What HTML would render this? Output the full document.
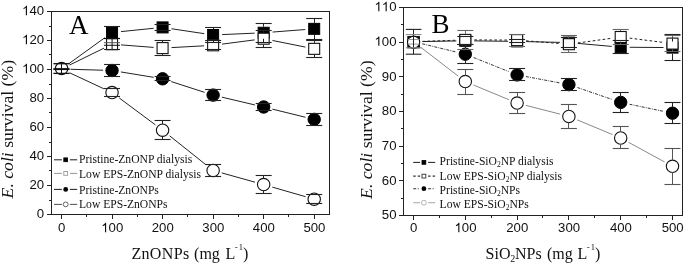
<!DOCTYPE html><html><head><meta charset="utf-8"><style>
html,body{margin:0;padding:0;background:#fff;overflow:hidden}
svg{display:block;will-change:transform}
.tk{font-family:"Liberation Sans",sans-serif;font-size:13.2px;fill:#111}
.lg{font-family:"Liberation Serif",serif;font-size:11.6px;fill:#111}
.ti{font-family:"Liberation Serif",serif;font-size:16px;fill:#111}
.pl{font-family:"Liberation Serif",serif;font-size:27px;fill:#000}
</style></head><body>
<svg width="685" height="265" viewBox="0 0 685 265">
<rect x="51.5" y="11.5" width="278.0" height="203.0" fill="none" stroke="#222" stroke-width="1"/>
<line x1="61.5" y1="214.5" x2="61.5" y2="219.0" stroke="#222" stroke-width="1"/>
<text x="61.7" y="232.3" class="tk" text-anchor="middle">0</text>
<line x1="112.5" y1="214.5" x2="112.5" y2="219.0" stroke="#222" stroke-width="1"/>
<text x="112.24" y="232.3" class="tk" text-anchor="middle">&#x2007;00</text>
<path d="M763 0H583V1147Q518 1085 412.5 1023Q307 961 223 930V1104Q374 1175 487 1276Q600 1377 647 1472H763V0Z" transform="translate(101.23,232.3) scale(0.006445,-0.006445)" fill="#111"/>
<line x1="162.5" y1="214.5" x2="162.5" y2="219.0" stroke="#222" stroke-width="1"/>
<text x="162.78" y="232.3" class="tk" text-anchor="middle">200</text>
<line x1="213.5" y1="214.5" x2="213.5" y2="219.0" stroke="#222" stroke-width="1"/>
<text x="213.32" y="232.3" class="tk" text-anchor="middle">300</text>
<line x1="263.5" y1="214.5" x2="263.5" y2="219.0" stroke="#222" stroke-width="1"/>
<text x="263.86" y="232.3" class="tk" text-anchor="middle">400</text>
<line x1="314.5" y1="214.5" x2="314.5" y2="219.0" stroke="#222" stroke-width="1"/>
<text x="314.4" y="232.3" class="tk" text-anchor="middle">500</text>
<line x1="86.5" y1="214.5" x2="86.5" y2="217.0" stroke="#222" stroke-width="1"/>
<line x1="137.5" y1="214.5" x2="137.5" y2="217.0" stroke="#222" stroke-width="1"/>
<line x1="187.5" y1="214.5" x2="187.5" y2="217.0" stroke="#222" stroke-width="1"/>
<line x1="238.5" y1="214.5" x2="238.5" y2="217.0" stroke="#222" stroke-width="1"/>
<line x1="288.5" y1="214.5" x2="288.5" y2="217.0" stroke="#222" stroke-width="1"/>
<line x1="47.0" y1="214.5" x2="51.5" y2="214.5" stroke="#222" stroke-width="1"/>
<text x="44.1" y="218.2" class="tk" text-anchor="end">0</text>
<line x1="47.0" y1="185.5" x2="51.5" y2="185.5" stroke="#222" stroke-width="1"/>
<text x="44.1" y="189.2" class="tk" text-anchor="end">20</text>
<line x1="47.0" y1="156.5" x2="51.5" y2="156.5" stroke="#222" stroke-width="1"/>
<text x="44.1" y="160.2" class="tk" text-anchor="end">40</text>
<line x1="47.0" y1="127.5" x2="51.5" y2="127.5" stroke="#222" stroke-width="1"/>
<text x="44.1" y="131.2" class="tk" text-anchor="end">60</text>
<line x1="47.0" y1="98.5" x2="51.5" y2="98.5" stroke="#222" stroke-width="1"/>
<text x="44.1" y="102.2" class="tk" text-anchor="end">80</text>
<line x1="47.0" y1="69.5" x2="51.5" y2="69.5" stroke="#222" stroke-width="1"/>
<text x="44.1" y="73.2" class="tk" text-anchor="end">&#x2007;00</text>
<path d="M763 0H583V1147Q518 1085 412.5 1023Q307 961 223 930V1104Q374 1175 487 1276Q600 1377 647 1472H763V0Z" transform="translate(22.08,73.2) scale(0.006445,-0.006445)" fill="#111"/>
<line x1="47.0" y1="40.5" x2="51.5" y2="40.5" stroke="#222" stroke-width="1"/>
<text x="44.1" y="44.2" class="tk" text-anchor="end">&#x2007;20</text>
<path d="M763 0H583V1147Q518 1085 412.5 1023Q307 961 223 930V1104Q374 1175 487 1276Q600 1377 647 1472H763V0Z" transform="translate(22.08,44.2) scale(0.006445,-0.006445)" fill="#111"/>
<line x1="47.0" y1="11.5" x2="51.5" y2="11.5" stroke="#222" stroke-width="1"/>
<text x="44.1" y="15.2" class="tk" text-anchor="end">&#x2007;40</text>
<path d="M763 0H583V1147Q518 1085 412.5 1023Q307 961 223 930V1104Q374 1175 487 1276Q600 1377 647 1472H763V0Z" transform="translate(22.08,15.2) scale(0.006445,-0.006445)" fill="#111"/>
<line x1="49.0" y1="200.5" x2="51.5" y2="200.5" stroke="#222" stroke-width="1"/>
<line x1="49.0" y1="170.5" x2="51.5" y2="170.5" stroke="#222" stroke-width="1"/>
<line x1="49.0" y1="142.5" x2="51.5" y2="142.5" stroke="#222" stroke-width="1"/>
<line x1="49.0" y1="112.5" x2="51.5" y2="112.5" stroke="#222" stroke-width="1"/>
<line x1="49.0" y1="84.5" x2="51.5" y2="84.5" stroke="#222" stroke-width="1"/>
<line x1="49.0" y1="54.5" x2="51.5" y2="54.5" stroke="#222" stroke-width="1"/>
<line x1="49.0" y1="26.5" x2="51.5" y2="26.5" stroke="#222" stroke-width="1"/>
<line x1="68.8" y1="63.73" x2="104.74" y2="37.77" stroke="#222" stroke-width="1"/>
<line x1="120.99" y1="31.6" x2="153.63" y2="28.3" stroke="#222" stroke-width="1"/>
<line x1="171.48" y1="28.74" x2="204.22" y2="33.66" stroke="#222" stroke-width="1"/>
<line x1="222.11" y1="34.6" x2="254.67" y2="33.15" stroke="#222" stroke-width="1"/>
<line x1="272.63" y1="32.06" x2="305.23" y2="29.54" stroke="#222" stroke-width="1"/>
<line x1="69.58" y1="65.04" x2="103.96" y2="48.16" stroke="#222" stroke-width="1"/>
<line x1="121.01" y1="44.89" x2="153.61" y2="47.41" stroke="#222" stroke-width="1"/>
<line x1="171.57" y1="47.6" x2="204.13" y2="45.8" stroke="#222" stroke-width="1"/>
<line x1="222.04" y1="44.13" x2="254.74" y2="39.87" stroke="#222" stroke-width="1"/>
<line x1="272.48" y1="40.47" x2="305.38" y2="47.08" stroke="#222" stroke-width="1"/>
<line x1="70.5" y1="69.27" x2="103.04" y2="70.23" stroke="#222" stroke-width="1"/>
<line x1="120.92" y1="71.96" x2="153.7" y2="77.34" stroke="#222" stroke-width="1"/>
<line x1="171.15" y1="81.56" x2="204.55" y2="92.34" stroke="#222" stroke-width="1"/>
<line x1="221.88" y1="97.16" x2="254.9" y2="104.94" stroke="#222" stroke-width="1"/>
<line x1="272.4" y1="109.14" x2="305.46" y2="117.26" stroke="#222" stroke-width="1"/>
<line x1="69.65" y1="72.81" x2="103.89" y2="88.79" stroke="#222" stroke-width="1"/>
<line x1="119.26" y1="97.97" x2="155.36" y2="124.83" stroke="#222" stroke-width="1"/>
<line x1="169.62" y1="135.81" x2="206.08" y2="164.89" stroke="#222" stroke-width="1"/>
<line x1="221.79" y1="172.92" x2="254.99" y2="182.18" stroke="#222" stroke-width="1"/>
<line x1="272.31" y1="187.1" x2="305.55" y2="196.7" stroke="#222" stroke-width="1"/>
<rect x="106.54" y="27" width="11.0" height="11.0" fill="#000" stroke="#000" stroke-width="1"/>
<rect x="157.08" y="21.9" width="11.0" height="11.0" fill="#000" stroke="#000" stroke-width="1"/>
<rect x="207.62" y="29.5" width="11.0" height="11.0" fill="#000" stroke="#000" stroke-width="1"/>
<rect x="258.16" y="27.25" width="11.0" height="11.0" fill="#000" stroke="#000" stroke-width="1"/>
<rect x="308.7" y="23.35" width="11.0" height="11.0" fill="#000" stroke="#000" stroke-width="1"/>
<rect x="106.54" y="38.7" width="11.0" height="11.0" fill="#fff" stroke="#111" stroke-width="1.1"/>
<rect x="157.08" y="42.6" width="11.0" height="11.0" fill="#fff" stroke="#111" stroke-width="1.1"/>
<rect x="207.62" y="39.8" width="11.0" height="11.0" fill="#fff" stroke="#111" stroke-width="1.1"/>
<rect x="258.16" y="33.2" width="11.0" height="11.0" fill="#fff" stroke="#111" stroke-width="1.1"/>
<rect x="308.7" y="43.35" width="11.0" height="11.0" fill="#fff" stroke="#111" stroke-width="1.1"/>
<circle cx="112.04" cy="70.5" r="6.2" fill="#000" stroke="#000" stroke-width="1"/>
<circle cx="162.58" cy="78.8" r="6.2" fill="#000" stroke="#000" stroke-width="1"/>
<circle cx="213.12" cy="95.1" r="6.2" fill="#000" stroke="#000" stroke-width="1"/>
<circle cx="263.66" cy="107" r="6.2" fill="#000" stroke="#000" stroke-width="1"/>
<circle cx="314.2" cy="119.4" r="6.2" fill="#000" stroke="#000" stroke-width="1"/>
<circle cx="112.04" cy="92.6" r="6.2" fill="#fff" stroke="#111" stroke-width="1.1"/>
<circle cx="162.58" cy="130.2" r="6.2" fill="#fff" stroke="#111" stroke-width="1.1"/>
<circle cx="213.12" cy="170.5" r="6.2" fill="#fff" stroke="#111" stroke-width="1.1"/>
<circle cx="263.66" cy="184.6" r="6.2" fill="#fff" stroke="#111" stroke-width="1.1"/>
<circle cx="314.2" cy="199.2" r="6.2" fill="#fff" stroke="#111" stroke-width="1.1"/>
<line x1="104.04" y1="26.5" x2="120.04" y2="26.5" stroke="#222" stroke-width="1.1"/>
<line x1="104.04" y1="38.5" x2="120.04" y2="38.5" stroke="#222" stroke-width="1.1"/>
<line x1="154.58" y1="24.5" x2="170.58" y2="24.5" stroke="#222" stroke-width="1.1"/>
<line x1="154.58" y1="30.5" x2="170.58" y2="30.5" stroke="#222" stroke-width="1.1"/>
<line x1="213.5" y1="27.5" x2="213.5" y2="29" stroke="#222" stroke-width="1"/>
<line x1="213.5" y1="41" x2="213.5" y2="42.5" stroke="#222" stroke-width="1"/>
<line x1="205.12" y1="27.5" x2="221.12" y2="27.5" stroke="#222" stroke-width="1.1"/>
<line x1="205.12" y1="42.5" x2="221.12" y2="42.5" stroke="#222" stroke-width="1.1"/>
<line x1="263.5" y1="23.5" x2="263.5" y2="26.75" stroke="#222" stroke-width="1"/>
<line x1="263.5" y1="38.75" x2="263.5" y2="42.5" stroke="#222" stroke-width="1"/>
<line x1="255.66" y1="23.5" x2="271.66" y2="23.5" stroke="#222" stroke-width="1.1"/>
<line x1="255.66" y1="42.5" x2="271.66" y2="42.5" stroke="#222" stroke-width="1.1"/>
<line x1="314.5" y1="18.5" x2="314.5" y2="22.85" stroke="#222" stroke-width="1"/>
<line x1="314.5" y1="34.85" x2="314.5" y2="39.5" stroke="#222" stroke-width="1"/>
<line x1="306.2" y1="18.5" x2="322.2" y2="18.5" stroke="#222" stroke-width="1.1"/>
<line x1="306.2" y1="39.5" x2="322.2" y2="39.5" stroke="#222" stroke-width="1.1"/>
<line x1="104.04" y1="38.5" x2="120.04" y2="38.5" stroke="#222" stroke-width="1.1"/>
<line x1="104.04" y1="49.5" x2="120.04" y2="49.5" stroke="#222" stroke-width="1.1"/>
<line x1="162.5" y1="40.5" x2="162.5" y2="42.1" stroke="#222" stroke-width="1"/>
<line x1="162.5" y1="54.1" x2="162.5" y2="55.5" stroke="#222" stroke-width="1"/>
<line x1="154.58" y1="40.5" x2="170.58" y2="40.5" stroke="#222" stroke-width="1.1"/>
<line x1="154.58" y1="55.5" x2="170.58" y2="55.5" stroke="#222" stroke-width="1.1"/>
<line x1="205.12" y1="40.5" x2="221.12" y2="40.5" stroke="#222" stroke-width="1.1"/>
<line x1="205.12" y1="49.5" x2="221.12" y2="49.5" stroke="#222" stroke-width="1.1"/>
<line x1="263.5" y1="30.5" x2="263.5" y2="32.7" stroke="#222" stroke-width="1"/>
<line x1="263.5" y1="44.7" x2="263.5" y2="47.5" stroke="#222" stroke-width="1"/>
<line x1="255.66" y1="30.5" x2="271.66" y2="30.5" stroke="#222" stroke-width="1.1"/>
<line x1="255.66" y1="47.5" x2="271.66" y2="47.5" stroke="#222" stroke-width="1.1"/>
<line x1="314.5" y1="40.5" x2="314.5" y2="42.85" stroke="#222" stroke-width="1"/>
<line x1="314.5" y1="54.85" x2="314.5" y2="57.5" stroke="#222" stroke-width="1"/>
<line x1="306.2" y1="40.5" x2="322.2" y2="40.5" stroke="#222" stroke-width="1.1"/>
<line x1="306.2" y1="57.5" x2="322.2" y2="57.5" stroke="#222" stroke-width="1.1"/>
<line x1="112.5" y1="64.5" x2="112.5" y2="64.5" stroke="#222" stroke-width="1"/>
<line x1="112.5" y1="76.5" x2="112.5" y2="76.5" stroke="#222" stroke-width="1"/>
<line x1="104.04" y1="64.5" x2="120.04" y2="64.5" stroke="#222" stroke-width="1.1"/>
<line x1="104.04" y1="76.5" x2="120.04" y2="76.5" stroke="#222" stroke-width="1.1"/>
<line x1="154.58" y1="76.5" x2="170.58" y2="76.5" stroke="#222" stroke-width="1.1"/>
<line x1="154.58" y1="80.5" x2="170.58" y2="80.5" stroke="#222" stroke-width="1.1"/>
<line x1="205.12" y1="89.5" x2="221.12" y2="89.5" stroke="#222" stroke-width="1.1"/>
<line x1="205.12" y1="100.5" x2="221.12" y2="100.5" stroke="#222" stroke-width="1.1"/>
<line x1="255.66" y1="103.5" x2="271.66" y2="103.5" stroke="#222" stroke-width="1.1"/>
<line x1="255.66" y1="110.5" x2="271.66" y2="110.5" stroke="#222" stroke-width="1.1"/>
<line x1="314.5" y1="113.5" x2="314.5" y2="113.4" stroke="#222" stroke-width="1"/>
<line x1="314.5" y1="125.4" x2="314.5" y2="125.5" stroke="#222" stroke-width="1"/>
<line x1="306.2" y1="113.5" x2="322.2" y2="113.5" stroke="#222" stroke-width="1.1"/>
<line x1="306.2" y1="125.5" x2="322.2" y2="125.5" stroke="#222" stroke-width="1.1"/>
<line x1="104.04" y1="88.5" x2="120.04" y2="88.5" stroke="#222" stroke-width="1.1"/>
<line x1="104.04" y1="96.5" x2="120.04" y2="96.5" stroke="#222" stroke-width="1.1"/>
<line x1="162.5" y1="120.5" x2="162.5" y2="124.2" stroke="#222" stroke-width="1"/>
<line x1="162.5" y1="136.2" x2="162.5" y2="139.5" stroke="#222" stroke-width="1"/>
<line x1="154.58" y1="120.5" x2="170.58" y2="120.5" stroke="#222" stroke-width="1.1"/>
<line x1="154.58" y1="139.5" x2="170.58" y2="139.5" stroke="#222" stroke-width="1.1"/>
<line x1="213.5" y1="164.5" x2="213.5" y2="164.5" stroke="#222" stroke-width="1"/>
<line x1="213.5" y1="176.5" x2="213.5" y2="176.5" stroke="#222" stroke-width="1"/>
<line x1="205.12" y1="164.5" x2="221.12" y2="164.5" stroke="#222" stroke-width="1.1"/>
<line x1="205.12" y1="176.5" x2="221.12" y2="176.5" stroke="#222" stroke-width="1.1"/>
<line x1="263.5" y1="175.5" x2="263.5" y2="178.6" stroke="#222" stroke-width="1"/>
<line x1="263.5" y1="190.6" x2="263.5" y2="193.5" stroke="#222" stroke-width="1"/>
<line x1="255.66" y1="175.5" x2="271.66" y2="175.5" stroke="#222" stroke-width="1.1"/>
<line x1="255.66" y1="193.5" x2="271.66" y2="193.5" stroke="#222" stroke-width="1.1"/>
<line x1="306.2" y1="194.5" x2="322.2" y2="194.5" stroke="#222" stroke-width="1.1"/>
<line x1="306.2" y1="203.5" x2="322.2" y2="203.5" stroke="#222" stroke-width="1.1"/>
<circle cx="61.6" cy="68.5" r="6.2" fill="#fff" stroke="#111" stroke-width="1.2"/>
<line x1="61.5" y1="62.3" x2="61.5" y2="74.7" stroke="#111" stroke-width="1"/>
<line x1="53.4" y1="63.7" x2="69.6" y2="63.7" stroke="#111" stroke-width="1.3"/>
<line x1="53.4" y1="69.1" x2="69.6" y2="69.1" stroke="#111" stroke-width="2.0"/>
<line x1="53.4" y1="73.4" x2="69.6" y2="73.4" stroke="#111" stroke-width="1.3"/>
<line x1="112.1" y1="38.5" x2="112.1" y2="49.5" stroke="#111" stroke-width="1"/>
<line x1="104" y1="42.7" x2="120" y2="42.7" stroke="#555" stroke-width="1"/>
<line x1="104" y1="45.3" x2="120" y2="45.3" stroke="#111" stroke-width="1"/>
<line x1="104" y1="38.5" x2="120" y2="38.5" stroke="#111" stroke-width="1"/>
<text x="69" y="34" class="pl">A</text>
<rect x="403.5" y="7.5" width="279.0" height="208.0" fill="none" stroke="#222" stroke-width="1"/>
<line x1="413.5" y1="215.5" x2="413.5" y2="220.0" stroke="#222" stroke-width="1"/>
<text x="413.7" y="232.3" class="tk" text-anchor="middle">0</text>
<line x1="465.5" y1="215.5" x2="465.5" y2="220.0" stroke="#222" stroke-width="1"/>
<text x="465.5" y="232.3" class="tk" text-anchor="middle">&#x2007;00</text>
<path d="M763 0H583V1147Q518 1085 412.5 1023Q307 961 223 930V1104Q374 1175 487 1276Q600 1377 647 1472H763V0Z" transform="translate(454.49,232.3) scale(0.006445,-0.006445)" fill="#111"/>
<line x1="517.5" y1="215.5" x2="517.5" y2="220.0" stroke="#222" stroke-width="1"/>
<text x="517.3" y="232.3" class="tk" text-anchor="middle">200</text>
<line x1="568.5" y1="215.5" x2="568.5" y2="220.0" stroke="#222" stroke-width="1"/>
<text x="569.1" y="232.3" class="tk" text-anchor="middle">300</text>
<line x1="620.5" y1="215.5" x2="620.5" y2="220.0" stroke="#222" stroke-width="1"/>
<text x="620.9" y="232.3" class="tk" text-anchor="middle">400</text>
<line x1="672.5" y1="215.5" x2="672.5" y2="220.0" stroke="#222" stroke-width="1"/>
<text x="672.7" y="232.3" class="tk" text-anchor="middle">500</text>
<line x1="439.5" y1="215.5" x2="439.5" y2="218.0" stroke="#222" stroke-width="1"/>
<line x1="491.5" y1="215.5" x2="491.5" y2="218.0" stroke="#222" stroke-width="1"/>
<line x1="542.5" y1="215.5" x2="542.5" y2="218.0" stroke="#222" stroke-width="1"/>
<line x1="594.5" y1="215.5" x2="594.5" y2="218.0" stroke="#222" stroke-width="1"/>
<line x1="646.5" y1="215.5" x2="646.5" y2="218.0" stroke="#222" stroke-width="1"/>
<line x1="399.0" y1="215.5" x2="403.5" y2="215.5" stroke="#222" stroke-width="1"/>
<text x="396.5" y="219.2" class="tk" text-anchor="end">50</text>
<line x1="399.0" y1="180.5" x2="403.5" y2="180.5" stroke="#222" stroke-width="1"/>
<text x="396.5" y="184.53" class="tk" text-anchor="end">60</text>
<line x1="399.0" y1="146.5" x2="403.5" y2="146.5" stroke="#222" stroke-width="1"/>
<text x="396.5" y="149.87" class="tk" text-anchor="end">70</text>
<line x1="399.0" y1="111.5" x2="403.5" y2="111.5" stroke="#222" stroke-width="1"/>
<text x="396.5" y="115.2" class="tk" text-anchor="end">80</text>
<line x1="399.0" y1="76.5" x2="403.5" y2="76.5" stroke="#222" stroke-width="1"/>
<text x="396.5" y="80.53" class="tk" text-anchor="end">90</text>
<line x1="399.0" y1="42.5" x2="403.5" y2="42.5" stroke="#222" stroke-width="1"/>
<text x="396.5" y="45.87" class="tk" text-anchor="end">&#x2007;00</text>
<path d="M763 0H583V1147Q518 1085 412.5 1023Q307 961 223 930V1104Q374 1175 487 1276Q600 1377 647 1472H763V0Z" transform="translate(374.48,45.87) scale(0.006445,-0.006445)" fill="#111"/>
<line x1="399.0" y1="7.5" x2="403.5" y2="7.5" stroke="#222" stroke-width="1"/>
<text x="396.5" y="11.2" class="tk" text-anchor="end">&#x2007;&#x2007;0</text>
<path d="M763 0H583V1147Q518 1085 412.5 1023Q307 961 223 930V1104Q374 1175 487 1276Q600 1377 647 1472H763V0Z" transform="translate(374.48,11.2) scale(0.006445,-0.006445)" fill="#111"/>
<path d="M763 0H583V1147Q518 1085 412.5 1023Q307 961 223 930V1104Q374 1175 487 1276Q600 1377 647 1472H763V0Z" transform="translate(381.82,11.2) scale(0.006445,-0.006445)" fill="#111"/>
<line x1="401.0" y1="198.5" x2="403.5" y2="198.5" stroke="#222" stroke-width="1"/>
<line x1="401.0" y1="163.5" x2="403.5" y2="163.5" stroke="#222" stroke-width="1"/>
<line x1="401.0" y1="128.5" x2="403.5" y2="128.5" stroke="#222" stroke-width="1"/>
<line x1="401.0" y1="94.5" x2="403.5" y2="94.5" stroke="#222" stroke-width="1"/>
<line x1="401.0" y1="59.5" x2="403.5" y2="59.5" stroke="#222" stroke-width="1"/>
<line x1="401.0" y1="24.5" x2="403.5" y2="24.5" stroke="#222" stroke-width="1"/>
<line x1="422.5" y1="41.54" x2="456.3" y2="40.96" stroke="#222" stroke-width="1"/>
<line x1="474.3" y1="40.9" x2="508.1" y2="41.3" stroke="#222" stroke-width="1"/>
<line x1="526.1" y1="41.61" x2="559.9" y2="42.39" stroke="#222" stroke-width="1"/>
<line x1="577.86" y1="43.4" x2="611.74" y2="46.4" stroke="#222" stroke-width="1"/>
<line x1="629.7" y1="47.27" x2="663.5" y2="47.53" stroke="#222" stroke-width="1"/>
<line x1="422.49" y1="41.39" x2="456.31" y2="40.21" stroke="#222" stroke-width="1" stroke-dasharray="2.7,2.3"/>
<line x1="474.3" y1="39.93" x2="508.1" y2="40.07" stroke="#222" stroke-width="1" stroke-dasharray="2.7,2.3"/>
<line x1="526.07" y1="40.81" x2="559.93" y2="43.49" stroke="#222" stroke-width="1" stroke-dasharray="2.7,2.3"/>
<line x1="577.81" y1="42.96" x2="611.79" y2="38.24" stroke="#222" stroke-width="1" stroke-dasharray="2.7,2.3"/>
<line x1="629.63" y1="38.14" x2="663.57" y2="42.46" stroke="#222" stroke-width="1" stroke-dasharray="2.7,2.3"/>
<line x1="422.25" y1="43.81" x2="456.55" y2="52.09" stroke="#333" stroke-width="1" stroke-dasharray="3,1.2,0.9,1.1"/>
<line x1="473.66" y1="57.54" x2="508.74" y2="71.56" stroke="#333" stroke-width="1" stroke-dasharray="3,1.2,0.9,1.1"/>
<line x1="525.95" y1="76.56" x2="560.05" y2="82.94" stroke="#333" stroke-width="1" stroke-dasharray="3,1.2,0.9,1.1"/>
<line x1="577.41" y1="87.52" x2="612.19" y2="99.48" stroke="#333" stroke-width="1" stroke-dasharray="3,1.2,0.9,1.1"/>
<line x1="629.51" y1="104.24" x2="663.69" y2="111.36" stroke="#333" stroke-width="1" stroke-dasharray="3,1.2,0.9,1.1"/>
<line x1="420.63" y1="47.19" x2="458.17" y2="76.11" stroke="#888" stroke-width="1"/>
<line x1="473.61" y1="85.05" x2="508.79" y2="99.65" stroke="#888" stroke-width="1"/>
<line x1="525.82" y1="105.34" x2="560.18" y2="114.16" stroke="#888" stroke-width="1"/>
<line x1="577.21" y1="119.86" x2="612.39" y2="134.54" stroke="#888" stroke-width="1"/>
<line x1="628.6" y1="142.32" x2="664.6" y2="161.98" stroke="#888" stroke-width="1"/>
<rect x="459.8" y="35.3" width="11.0" height="11.0" fill="#000" stroke="#000" stroke-width="1"/>
<rect x="511.6" y="35.9" width="11.0" height="11.0" fill="#000" stroke="#000" stroke-width="1"/>
<rect x="563.4" y="37.1" width="11.0" height="11.0" fill="#000" stroke="#000" stroke-width="1"/>
<rect x="615.2" y="41.7" width="11.0" height="11.0" fill="#000" stroke="#000" stroke-width="1"/>
<rect x="667" y="42.1" width="11.0" height="11.0" fill="#000" stroke="#000" stroke-width="1"/>
<rect x="459.8" y="34.4" width="11.0" height="11.0" fill="#fff" stroke="#111" stroke-width="1.1"/>
<rect x="511.6" y="34.6" width="11.0" height="11.0" fill="#fff" stroke="#111" stroke-width="1.1"/>
<rect x="563.4" y="38.7" width="11.0" height="11.0" fill="#fff" stroke="#111" stroke-width="1.1"/>
<rect x="615.2" y="31.5" width="11.0" height="11.0" fill="#fff" stroke="#111" stroke-width="1.1"/>
<rect x="667" y="38.1" width="11.0" height="11.0" fill="#fff" stroke="#111" stroke-width="1.1"/>
<circle cx="465.3" cy="54.2" r="6.2" fill="#000" stroke="#000" stroke-width="1"/>
<circle cx="517.1" cy="74.9" r="6.2" fill="#000" stroke="#000" stroke-width="1"/>
<circle cx="568.9" cy="84.6" r="6.2" fill="#000" stroke="#000" stroke-width="1"/>
<circle cx="620.7" cy="102.4" r="6.2" fill="#000" stroke="#000" stroke-width="1"/>
<circle cx="672.5" cy="113.2" r="6.2" fill="#000" stroke="#000" stroke-width="1"/>
<circle cx="465.3" cy="81.6" r="6.2" fill="#fff" stroke="#111" stroke-width="1.1"/>
<circle cx="517.1" cy="103.1" r="6.2" fill="#fff" stroke="#111" stroke-width="1.1"/>
<circle cx="568.9" cy="116.4" r="6.2" fill="#fff" stroke="#111" stroke-width="1.1"/>
<circle cx="620.7" cy="138" r="6.2" fill="#fff" stroke="#111" stroke-width="1.1"/>
<circle cx="672.5" cy="166.3" r="6.2" fill="#fff" stroke="#111" stroke-width="1.1"/>
<line x1="457.3" y1="36.5" x2="473.3" y2="36.5" stroke="#222" stroke-width="1.1"/>
<line x1="457.3" y1="44.5" x2="473.3" y2="44.5" stroke="#222" stroke-width="1.1"/>
<line x1="509.1" y1="39.5" x2="525.1" y2="39.5" stroke="#222" stroke-width="1.1"/>
<line x1="509.1" y1="42.5" x2="525.1" y2="42.5" stroke="#222" stroke-width="1.1"/>
<line x1="560.9" y1="37.5" x2="576.9" y2="37.5" stroke="#222" stroke-width="1.1"/>
<line x1="560.9" y1="47.5" x2="576.9" y2="47.5" stroke="#222" stroke-width="1.1"/>
<line x1="620.5" y1="40.5" x2="620.5" y2="41.2" stroke="#222" stroke-width="1"/>
<line x1="620.5" y1="53.2" x2="620.5" y2="53.5" stroke="#222" stroke-width="1"/>
<line x1="612.7" y1="40.5" x2="628.7" y2="40.5" stroke="#222" stroke-width="1.1"/>
<line x1="612.7" y1="53.5" x2="628.7" y2="53.5" stroke="#222" stroke-width="1.1"/>
<line x1="672.5" y1="34.5" x2="672.5" y2="41.6" stroke="#222" stroke-width="1"/>
<line x1="672.5" y1="53.6" x2="672.5" y2="60.5" stroke="#222" stroke-width="1"/>
<line x1="664.5" y1="34.5" x2="680.5" y2="34.5" stroke="#222" stroke-width="1.1"/>
<line x1="664.5" y1="60.5" x2="680.5" y2="60.5" stroke="#222" stroke-width="1.1"/>
<line x1="465.5" y1="30.5" x2="465.5" y2="33.9" stroke="#666" stroke-width="1"/>
<line x1="465.5" y1="45.9" x2="465.5" y2="49.5" stroke="#666" stroke-width="1"/>
<line x1="457.3" y1="30.5" x2="473.3" y2="30.5" stroke="#666" stroke-width="1.1"/>
<line x1="457.3" y1="49.5" x2="473.3" y2="49.5" stroke="#666" stroke-width="1.1"/>
<line x1="509.1" y1="34.5" x2="525.1" y2="34.5" stroke="#666" stroke-width="1.1"/>
<line x1="509.1" y1="46.5" x2="525.1" y2="46.5" stroke="#666" stroke-width="1.1"/>
<line x1="568.5" y1="35.5" x2="568.5" y2="38.2" stroke="#666" stroke-width="1"/>
<line x1="568.5" y1="50.2" x2="568.5" y2="52.5" stroke="#666" stroke-width="1"/>
<line x1="560.9" y1="35.5" x2="576.9" y2="35.5" stroke="#666" stroke-width="1.1"/>
<line x1="560.9" y1="52.5" x2="576.9" y2="52.5" stroke="#666" stroke-width="1.1"/>
<line x1="620.5" y1="29.5" x2="620.5" y2="31" stroke="#666" stroke-width="1"/>
<line x1="620.5" y1="43" x2="620.5" y2="44.5" stroke="#666" stroke-width="1"/>
<line x1="612.7" y1="29.5" x2="628.7" y2="29.5" stroke="#666" stroke-width="1.1"/>
<line x1="612.7" y1="44.5" x2="628.7" y2="44.5" stroke="#666" stroke-width="1.1"/>
<line x1="672.5" y1="35.5" x2="672.5" y2="37.6" stroke="#666" stroke-width="1"/>
<line x1="672.5" y1="49.6" x2="672.5" y2="51.5" stroke="#666" stroke-width="1"/>
<line x1="664.5" y1="35.5" x2="680.5" y2="35.5" stroke="#666" stroke-width="1.1"/>
<line x1="664.5" y1="51.5" x2="680.5" y2="51.5" stroke="#666" stroke-width="1.1"/>
<line x1="465.5" y1="44.5" x2="465.5" y2="48.2" stroke="#222" stroke-width="1"/>
<line x1="465.5" y1="60.2" x2="465.5" y2="63.5" stroke="#222" stroke-width="1"/>
<line x1="457.3" y1="44.5" x2="473.3" y2="44.5" stroke="#222" stroke-width="1.1"/>
<line x1="457.3" y1="63.5" x2="473.3" y2="63.5" stroke="#222" stroke-width="1.1"/>
<line x1="509.1" y1="68.5" x2="525.1" y2="68.5" stroke="#222" stroke-width="1.1"/>
<line x1="509.1" y1="80.5" x2="525.1" y2="80.5" stroke="#222" stroke-width="1.1"/>
<line x1="560.9" y1="78.5" x2="576.9" y2="78.5" stroke="#222" stroke-width="1.1"/>
<line x1="560.9" y1="90.5" x2="576.9" y2="90.5" stroke="#222" stroke-width="1.1"/>
<line x1="620.5" y1="92.5" x2="620.5" y2="96.4" stroke="#222" stroke-width="1"/>
<line x1="620.5" y1="108.4" x2="620.5" y2="112.5" stroke="#222" stroke-width="1"/>
<line x1="612.7" y1="92.5" x2="628.7" y2="92.5" stroke="#222" stroke-width="1.1"/>
<line x1="612.7" y1="112.5" x2="628.7" y2="112.5" stroke="#222" stroke-width="1.1"/>
<line x1="672.5" y1="102.5" x2="672.5" y2="107.2" stroke="#222" stroke-width="1"/>
<line x1="672.5" y1="119.2" x2="672.5" y2="123.5" stroke="#222" stroke-width="1"/>
<line x1="664.5" y1="102.5" x2="680.5" y2="102.5" stroke="#222" stroke-width="1.1"/>
<line x1="664.5" y1="123.5" x2="680.5" y2="123.5" stroke="#222" stroke-width="1.1"/>
<line x1="465.5" y1="69.5" x2="465.5" y2="75.6" stroke="#555" stroke-width="1"/>
<line x1="465.5" y1="87.6" x2="465.5" y2="94.5" stroke="#555" stroke-width="1"/>
<line x1="457.3" y1="69.5" x2="473.3" y2="69.5" stroke="#555" stroke-width="1.1"/>
<line x1="457.3" y1="94.5" x2="473.3" y2="94.5" stroke="#555" stroke-width="1.1"/>
<line x1="517.5" y1="92.5" x2="517.5" y2="97.1" stroke="#555" stroke-width="1"/>
<line x1="517.5" y1="109.1" x2="517.5" y2="113.5" stroke="#555" stroke-width="1"/>
<line x1="509.1" y1="92.5" x2="525.1" y2="92.5" stroke="#555" stroke-width="1.1"/>
<line x1="509.1" y1="113.5" x2="525.1" y2="113.5" stroke="#555" stroke-width="1.1"/>
<line x1="568.5" y1="104.5" x2="568.5" y2="110.4" stroke="#555" stroke-width="1"/>
<line x1="568.5" y1="122.4" x2="568.5" y2="128.5" stroke="#555" stroke-width="1"/>
<line x1="560.9" y1="104.5" x2="576.9" y2="104.5" stroke="#555" stroke-width="1.1"/>
<line x1="560.9" y1="128.5" x2="576.9" y2="128.5" stroke="#555" stroke-width="1.1"/>
<line x1="620.5" y1="126.5" x2="620.5" y2="132" stroke="#555" stroke-width="1"/>
<line x1="620.5" y1="144" x2="620.5" y2="148.5" stroke="#555" stroke-width="1"/>
<line x1="612.7" y1="126.5" x2="628.7" y2="126.5" stroke="#555" stroke-width="1.1"/>
<line x1="612.7" y1="148.5" x2="628.7" y2="148.5" stroke="#555" stroke-width="1.1"/>
<line x1="672.5" y1="148.5" x2="672.5" y2="160.3" stroke="#555" stroke-width="1"/>
<line x1="672.5" y1="172.3" x2="672.5" y2="184.5" stroke="#555" stroke-width="1"/>
<line x1="664.5" y1="148.5" x2="680.5" y2="148.5" stroke="#555" stroke-width="1.1"/>
<line x1="664.5" y1="184.5" x2="680.5" y2="184.5" stroke="#555" stroke-width="1.1"/>
<rect x="407.3" y="36.1" width="12.6" height="12.2" fill="#000"/>
<circle cx="413.6" cy="42.2" r="6.1" fill="#fff" stroke="#111" stroke-width="1.1"/>
<line x1="408" y1="39.5" x2="419.5" y2="39.5" stroke="#999" stroke-width="1"/>
<line x1="408" y1="44.1" x2="419.5" y2="44.1" stroke="#999" stroke-width="1"/>
<line x1="413.5" y1="29.4" x2="413.5" y2="54.2" stroke="#222" stroke-width="1"/>
<line x1="405.8" y1="29.4" x2="421.4" y2="29.4" stroke="#222" stroke-width="1.1"/>
<line x1="405.8" y1="54.2" x2="421.4" y2="54.2" stroke="#222" stroke-width="1.1"/>
<line x1="405.8" y1="34.6" x2="421.4" y2="34.6" stroke="#888" stroke-width="1.1"/>
<line x1="405.8" y1="47.8" x2="421.4" y2="47.8" stroke="#888" stroke-width="1.1"/>
<text x="431.5" y="33" class="pl">B</text>
<line x1="54" y1="159.8" x2="61.9" y2="159.8" stroke="#222" stroke-width="1.05"/>
<line x1="69.9" y1="159.8" x2="77.2" y2="159.8" stroke="#222" stroke-width="1.05"/>
<rect x="63.800000000000004" y="157.9" width="3.8" height="3.8" fill="#000" stroke="#000" stroke-width="0.8"/>
<text x="79" y="163" class="lg">Pristine-ZnONP dialysis</text>
<line x1="54" y1="173.4" x2="61.9" y2="173.4" stroke="#999" stroke-width="1.05"/>
<line x1="69.9" y1="173.4" x2="77.2" y2="173.4" stroke="#999" stroke-width="1.05"/>
<rect x="63.800000000000004" y="171.5" width="3.8" height="3.8" fill="#fff" stroke="#999" stroke-width="0.9"/>
<text x="79" y="177.5" class="lg">Low EPS-ZnONP dialysis</text>
<line x1="54" y1="189.4" x2="61.9" y2="189.4" stroke="#222" stroke-width="1.05"/>
<line x1="69.9" y1="189.4" x2="77.2" y2="189.4" stroke="#222" stroke-width="1.05"/>
<circle cx="65.7" cy="189.4" r="2.4" fill="#000"/>
<text x="79" y="193.5" class="lg">Pristine-ZnONPs</text>
<line x1="54" y1="204.4" x2="61.9" y2="204.4" stroke="#555" stroke-width="1.05"/>
<line x1="69.9" y1="204.4" x2="77.2" y2="204.4" stroke="#555" stroke-width="1.05"/>
<circle cx="65.7" cy="204.4" r="2.4" fill="#fff" stroke="#555" stroke-width="0.9"/>
<text x="79" y="207.5" class="lg">Low EPS-ZnONPs</text>
<line x1="413.2" y1="162.4" x2="420.1" y2="162.4" stroke="#222" stroke-width="1.05"/>
<line x1="428.1" y1="162.4" x2="435.2" y2="162.4" stroke="#222" stroke-width="1.05"/>
<rect x="422.0" y="160.5" width="3.8" height="3.8" fill="#000" stroke="#000" stroke-width="0.8"/>
<text x="439.6" y="164.7" class="lg">Pristine-SiO<tspan font-size="7.5px" dy="2.5">2</tspan><tspan dy="-2.5">NP dialysis</tspan></text>
<line x1="413.2" y1="176.1" x2="420.1" y2="176.1" stroke="#333" stroke-width="1.05" stroke-dasharray="2.5,2"/>
<line x1="428.1" y1="176.1" x2="435.2" y2="176.1" stroke="#333" stroke-width="1.05" stroke-dasharray="2.5,2"/>
<rect x="422.0" y="174.2" width="3.8" height="3.8" fill="#fff" stroke="#333" stroke-width="0.9"/>
<text x="439.6" y="179.9" class="lg">Low EPS-SiO<tspan font-size="7.5px" dy="2.5">2</tspan><tspan dy="-2.5">NP dialysis</tspan></text>
<line x1="413.2" y1="188.7" x2="420.1" y2="188.7" stroke="#333" stroke-width="1.05" stroke-dasharray="3,1.5,1,1.5"/>
<line x1="428.1" y1="188.7" x2="435.2" y2="188.7" stroke="#333" stroke-width="1.05" stroke-dasharray="3,1.5,1,1.5"/>
<circle cx="423.9" cy="188.7" r="2.4" fill="#000"/>
<text x="439.6" y="193.5" class="lg">Pristine-SiO<tspan font-size="7.5px" dy="2.5">2</tspan><tspan dy="-2.5">NPs</tspan></text>
<line x1="413.2" y1="202.7" x2="420.1" y2="202.7" stroke="#aaa" stroke-width="1.05"/>
<line x1="428.1" y1="202.7" x2="435.2" y2="202.7" stroke="#aaa" stroke-width="1.05"/>
<circle cx="423.9" cy="202.7" r="2.4" fill="#fff" stroke="#aaa" stroke-width="0.9"/>
<text x="439.6" y="207.5" class="lg">Low EPS-SiO<tspan font-size="7.5px" dy="2.5">2</tspan><tspan dy="-2.5">NPs</tspan></text>
<text x="131.4" y="258.8" class="ti" style="letter-spacing:0.35px">ZnONPs</text>
<text x="194.1" y="258.8" class="ti">(mg</text>
<text x="225.5" y="258.8" class="ti">L</text>
<text x="234.7" y="249.8" class="ti" style="font-size:9px">-</text>
<text x="238.7" y="249.8" class="ti" style="font-size:8.5px">1</text>
<text x="242.9" y="258.8" class="ti">)</text>
<text x="485.6" y="258.6" class="ti">SiO</text>
<text x="510.2" y="258.6" class="ti" style="font-size:10px" dy="3.6">2</text>
<text x="515.0" y="258.6" class="ti">NPs</text>
<text x="546.9" y="258.6" class="ti">(mg</text>
<text x="577.5" y="258.6" class="ti">L</text>
<text x="586.7" y="249.60000000000002" class="ti" style="font-size:9px">-</text>
<text x="590.7" y="249.60000000000002" class="ti" style="font-size:8.5px">1</text>
<text x="594.9" y="258.6" class="ti">)</text>
<text transform="translate(13.4,198.4) rotate(-90)" class="ti" style="font-size:17.7px"><tspan font-style="italic">E. coli</tspan> survival (%)</text>
<text transform="translate(372.1,198.9) rotate(-90)" class="ti" style="font-size:17.7px"><tspan font-style="italic">E. coli</tspan> survival (%)</text>
</svg></body></html>
